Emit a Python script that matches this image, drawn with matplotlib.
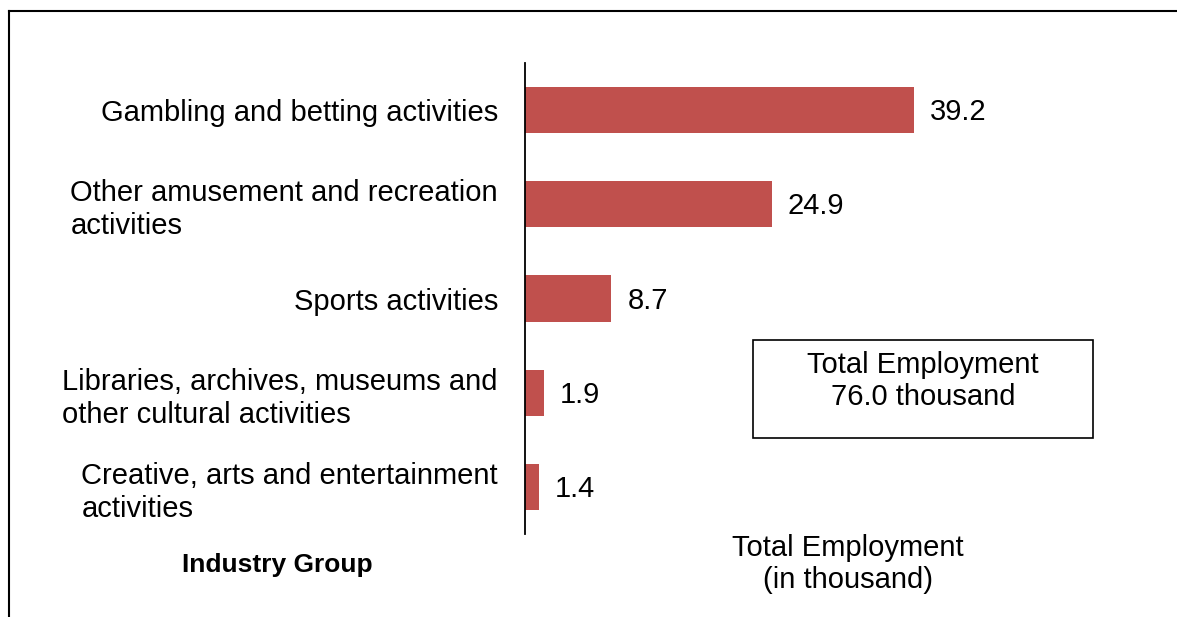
import matplotlib
matplotlib.use("Agg")
import matplotlib.pyplot as plt
from matplotlib.lines import Line2D

plt.rcParams['font.family'] = ['Liberation Sans', 'DejaVu Sans']

categories = [
    "Gambling and betting activities",
    "Other amusement and recreation\nactivities",
    "Sports activities",
    "Libraries, archives, museums and\nother cultural activities",
    "Creative, arts and entertainment\nactivities",
]
employment = [39.2, 24.9, 8.7, 1.9, 1.4]
total_employment = 76.0

FS = 21
LS = 1.22
W, H = 1177, 617
fig = plt.figure(figsize=(W / 100, H / 100), dpi=100)

# axes placed in pixel terms: left 525, right 1155, top 63, bottom 534
left, right, top, bottom = 525, 1155, 63, 534
ax = fig.add_axes([left / W, 1 - bottom / H, (right - left) / W, (bottom - top) / H])

bar_color = "#C0504D"
ypos = list(range(len(categories)))
ax.barh(ypos, employment, height=0.49, color=bar_color)
ax.set_ylim(len(categories) - 0.5, -0.5)
ax.set_xlim(0, (right - left) / 9.92)

ax.set_yticks(ypos)
ax.set_yticklabels(categories, fontsize=FS, multialignment='left', linespacing=LS)
ax.tick_params(axis='y', length=0, pad=19.5)
ax.set_xticks([])
for s in ['top', 'right', 'bottom']:
    ax.spines[s].set_visible(False)
ax.spines['left'].set_linewidth(1.3)

for y, v in zip(ypos, employment):
    ax.annotate(f"{v:.1f}", (v, y), xytext=(11.5, -1.5), textcoords='offset points',
                va='center', ha='left', fontsize=FS)

# summary box
fig.text(923 / W, 1 - 381 / H, f"Total Employment\n{total_employment:.1f} thousand",
         ha='center', va='center', fontsize=FS, linespacing=LS)
fig.patches.append(plt.Rectangle((753 / W, 1 - 438 / H), 340 / W, 98 / H,
                                 transform=fig.transFigure, fill=False,
                                 edgecolor='black', linewidth=1.2))

fig.text(848 / W, 1 - 564 / H, "Total Employment\n(in thousand)",
         ha='center', va='center', fontsize=FS, linespacing=LS)
fig.text(277 / W, 1 - 565 / H, "Industry Group", ha='center', va='center',
         fontsize=19, fontweight='bold')

# outer frame (top and left edges)
fig.add_artist(Line2D([9 / W, 1], [1 - 11 / H, 1 - 11 / H], transform=fig.transFigure,
                      color='black', linewidth=1.5))
fig.add_artist(Line2D([9 / W, 9 / W], [0, 1 - 11 / H], transform=fig.transFigure,
                      color='black', linewidth=1.5))

fig.savefig("out.png", dpi=100)
